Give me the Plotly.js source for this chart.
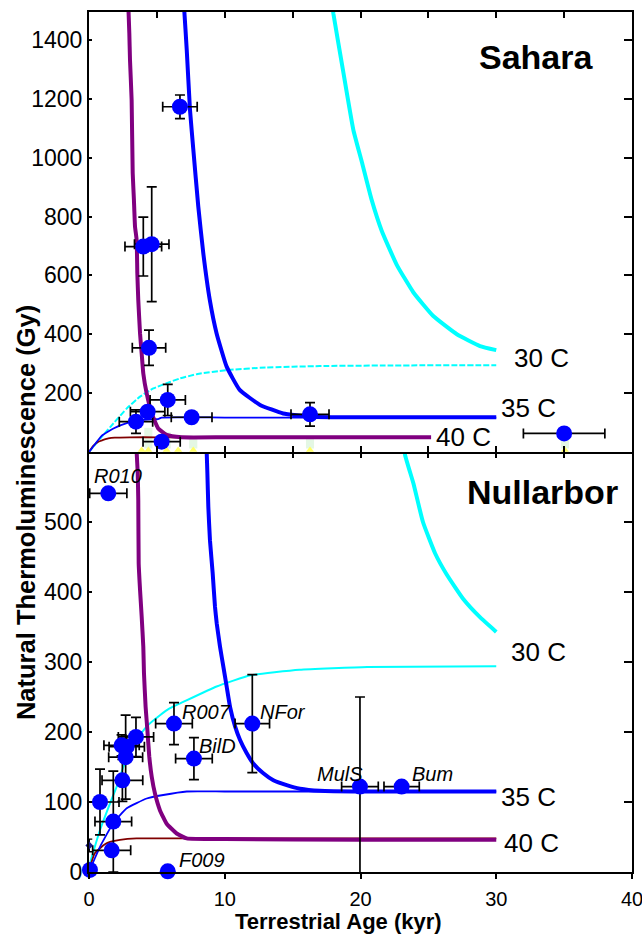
<!DOCTYPE html>
<html><head><meta charset="utf-8">
<script src="https://cdn.plot.ly/plotly-3.0.1.min.js"></script>
<style>html,body{margin:0;padding:0;background:#fff}#chart{width:642px;height:938px}</style>
</head><body><div id="chart"></div>
<script>
// ---------- Sahara (top panel) measured meteorites ----------
const saharaAge    = [6.70, 4.00, 4.62, 4.42, 5.80, 4.32, 3.46, 7.56, 5.35, 16.28, 35.0];
const saharaTL     = [1173, 698, 706, 354, 177, 137, 103, 118, 35, 128, 63];
const saharaAgeErr = [1.27, 1.35, 1.27, 1.23, 1.3, 1.27, 1.23, 1.5, 1.37, 1.4, 3.0];
const saharaTLErr  = [40, 100, 195, 60, 53, 15, 40, 8, 5, 40, 5];
const saharaFlagAge = [3.88, 4.37, 5.72, 6.57, 7.68, 16.28, 35.06];
const saharaFlagTL  = [7, 7, 7, 7, 7, 7, 7];
const saharaShadeAge = [4.37, 5.72, 7.68, 16.28, 35.06];
const saharaShadeTL  = [70, 55, 40, 35, 35];

// Sahara model curves
const s30DecayAge = [17.95, 18.0, 18.7, 19.47, 20.1, 20.8, 21.56, 22.67, 23.9, 25.36, 27.1, 28.8, 30.0];
const s30DecayTL  = [1510, 1490, 1300, 1095, 985, 860, 752, 636, 542, 462, 400, 360, 346];
const s35DecayAge = [6.97, 7.0, 7.2, 7.44, 7.68, 8.05, 8.42, 8.9, 9.4, 10.14, 11.1, 12.6, 14.3, 16.3, 20, 25, 30];
const s35DecayTL  = [1530, 1513, 1366, 1162, 1030, 834, 675, 516, 403, 290, 211, 160, 131, 120, 118, 118, 118];
const s40DecayAge = [2.88, 2.90, 2.97, 3.02, 3.14, 3.22, 3.31, 3.39, 3.51, 3.56, 3.63, 3.76, 3.88, 4.0, 4.25, 4.62, 5.1, 5.72, 6.83, 10, 15, 20, 25.2];
const s40DecayTL  = [1540, 1513, 1423, 1332, 1196, 947, 856, 766, 720, 607, 516, 403, 335, 267, 199, 131, 80, 58, 50, 50, 50, 50, 50];
const s30GrowthAge = [0, 0.32, 1.05, 1.8, 2.78, 3.76, 4.74, 5.97, 6.7, 8.0, 10.1, 13, 17, 22, 30];
const s30GrowthTL  = [0, 18, 58, 97, 148, 188, 216, 238, 250, 265, 278, 287, 292, 294, 295];
const s35GrowthAge = [0, 0.3, 0.93, 1.8, 2.78, 3.76, 4.6, 5.1, 5.35, 10, 20, 30];
const s35GrowthTL  = [0, 18, 55, 80, 98, 108, 111, 112, 117, 117, 117, 117];
const s40GrowthAge = [0, 0.3, 0.69, 1.0, 1.42, 1.9, 3, 5, 10, 25];
const s40GrowthTL  = [0, 20, 35, 40, 46, 49, 50, 50, 50, 50];

// ---------- Nullarbor (bottom panel) measured meteorites ----------
const nullAge    = [1.42, 0.81, 1.79, 1.67, 0.07, 5.80, 2.46, 2.70, 2.40, 2.78, 3.46, 6.26, 7.73, 12.03, 19.96, 23.03];
const nullTL     = [541, 100, 72, 31, 3, 1, 131, 164, 181, 179, 193, 212, 162, 212, 122, 122];
const nullAgeErr = [1.37, 1.4, 1.35, 1.4, 0, 0, 1.5, 1.25, 1.3, 1.3, 1.3, 1.35, 1.35, 1.27, 1.35, 1.3];
const nullTLErr  = [5, 47, 72, 5, 0, 0, 30, 60, 15, 15, 28, 30, 30, 70, 128, 5];
const nullSmallAge = [0.02];
const nullSmallTL  = [38];
const nullSmallErr = [9];
const nullNames    = ['R010', 'R007', 'BilD', 'NFor', 'MulS', 'Bum', 'F009'];
const nullNameAge  = [0.2, 6.70, 7.93, 12.45, 16.65, 23.65, 6.46];
const nullNameTL   = [566, 229, 180, 229, 140, 140, 17];

// Nullarbor model curves
const n30DecayAge = [23.2, 23.28, 23.9, 24.6, 25.5, 26.35, 27.57, 28.8, 30.0];
const n30DecayTL  = [615, 596, 555, 500, 455, 425, 390, 364, 343];
const n35DecayAge = [8.65, 8.67, 8.72, 8.79, 8.91, 9.11, 9.28, 9.41, 9.65, 9.9, 10.14, 10.39, 10.76, 11.12, 11.61, 12.1, 12.84, 13.58, 14.56, 15.54, 17.0, 20, 25, 30];
const n35DecayTL  = [615, 600, 570, 522, 474, 427, 379, 355, 322, 293, 265, 236, 208, 189, 170, 155, 141, 131, 124, 119, 116, 115, 115, 115];
const n40DecayAge = [3.49, 3.51, 3.59, 3.63, 3.66, 3.76, 3.88, 4.0, 4.05, 4.17, 4.30, 4.44, 4.62, 4.86, 5.23, 5.72, 6.46, 7.2, 10, 20, 30];
const n40DecayTL  = [615, 600, 570, 531, 441, 403, 365, 322, 284, 236, 203, 165, 136, 112, 88, 69, 55, 48, 47, 46, 46];
const n30GrowthAge = [0, 0.07, 0.81, 1.55, 2.04, 2.53, 3.26, 4.25, 5.23, 5.97, 6.95, 9.4, 11.9, 15.5, 20.5, 30];
const n30GrowthTL  = [0, 12, 60, 98, 122, 150, 182, 208, 224, 234, 243, 265, 281, 289, 293, 294];
const n35GrowthAge = [0, 0.44, 0.81, 1.79, 2.78, 4.25, 5.47, 7.2, 10, 20, 30];
const n35GrowthTL  = [0, 20, 36, 70, 91, 105, 110, 115, 115, 115, 115];
const n40GrowthAge = [0, 0.2, 0.44, 0.81, 1.2, 1.55, 2.28, 3.5, 7.2, 30];
const n40GrowthTL  = [0, 15, 27, 34, 40, 43, 46, 48, 48, 48];

const curveLabels = ['30 C', '35 C', '40 C'];
const ageTicks = [0, 10, 20, 30, 40];
const ageMinorTicks = [5, 10, 15, 20, 25, 30, 35];
const saharaTicks = [200, 400, 600, 800, 1000, 1200, 1400];
const nullTicks = [0, 100, 200, 300, 400, 500];

// ---------- styles ----------
const FONT = 'Liberation Sans, Arial, sans-serif';
const NARROW = '"Liberation Sans Narrow", "Arial Narrow", "Liberation Sans", Arial, sans-serif';
const CYAN = '#00ffff', BLUE = '#0000ff', PURPLE = '#800080', MAROON = '#800000';
const TOP = ['x2', 'y2'], BOT = ['x', 'y'];

function curve(x, y, color, width, ax, dash) {
  return {type: 'scatter', mode: 'lines', x: x, y: y, xaxis: ax[0], yaxis: ax[1],
    line: {color: color, width: width, dash: dash || 'solid', shape: 'spline', smoothing: 0.4},
    hoverinfo: 'skip', showlegend: false};
}
function points(x, y, ex, ey, ax) {
  return {type: 'scatter', mode: 'markers', x: x, y: y, xaxis: ax[0], yaxis: ax[1],
    marker: {color: BLUE, size: 16, line: {width: 0}},
    error_x: {type: 'data', array: ex, color: '#000', thickness: 1.7, width: 5},
    error_y: {type: 'data', array: ey, color: '#000', thickness: 1.7, width: 5},
    cliponaxis: false, showlegend: false};
}
function axisHolder(xa, ya) {
  return {type: 'scatter', mode: 'markers', x: [], y: [], xaxis: xa, yaxis: ya, showlegend: false, hoverinfo: 'skip'};
}

const traces = [
  {type: 'bar', x: saharaShadeAge, y: saharaShadeTL, base: 12, width: 0.6, xaxis: 'x2', yaxis: 'y2',
   marker: {color: '#e4f7e4', line: {width: 0}}, showlegend: false, hoverinfo: 'skip'},
  curve(s30GrowthAge, s30GrowthTL, CYAN, 2, TOP, '6px,2px'),
  curve(s40GrowthAge, s40GrowthTL, MAROON, 1.8, TOP),
  curve(s35GrowthAge, s35GrowthTL, BLUE, 1.8, TOP),
  curve(s30DecayAge, s30DecayTL, CYAN, 4, TOP),
  curve(s35DecayAge, s35DecayTL, BLUE, 4, TOP),
  curve(s40DecayAge, s40DecayTL, PURPLE, 4, TOP),
  {type: 'scatter', mode: 'markers', x: saharaFlagAge, y: saharaFlagTL, xaxis: 'x2', yaxis: 'y2',
   marker: {symbol: 'triangle-up', color: '#ffff66', size: 7, line: {width: 0}}, cliponaxis: false, showlegend: false},
  points(saharaAge, saharaTL, saharaAgeErr, saharaTLErr, TOP),

  curve(n30GrowthAge, n30GrowthTL, CYAN, 2, BOT),
  curve(n40GrowthAge, n40GrowthTL, MAROON, 1.8, BOT),
  curve(n35GrowthAge, n35GrowthTL, BLUE, 1.8, BOT),
  curve(n30DecayAge, n30DecayTL, CYAN, 4, BOT),
  curve(n35DecayAge, n35DecayTL, BLUE, 4, BOT),
  curve(n40DecayAge, n40DecayTL, PURPLE, 4, BOT),
  points(nullAge, nullTL, nullAgeErr, nullTLErr, BOT),
  {type: 'scatter', mode: 'markers', x: nullSmallAge, y: nullSmallTL, xaxis: 'x', yaxis: 'y',
   marker: {symbol: 'diamond', color: '#1a1a8c', size: 6},
   error_y: {type: 'data', array: nullSmallErr, color: '#000', thickness: 1.4, width: 3},
   cliponaxis: false, showlegend: false},

  axisHolder('x3', 'y'), axisHolder('x', 'y3'), axisHolder('x2', 'y4')
];

const annotations = [];
function label(text, x, y, ax, size, opts) {
  annotations.push(Object.assign({text: text, x: x, y: y, xref: ax[0], yref: ax[1], showarrow: false,
    font: {family: FONT, size: size, color: '#000'}}, opts || {}));
}
label('<b>Sahara</b>', 32.93, 1342, TOP, 34);
label('<b>Nullarbor</b>', 33.37, 543, BOT, 34);
label(curveLabels[0], 33.3, 319, TOP, 26);
label(curveLabels[1], 32.4, 150, TOP, 26);
label(curveLabels[2], 27.6, 51, TOP, 26);
label(curveLabels[0], 33.1, 314, BOT, 26);
label(curveLabels[1], 32.4, 107, BOT, 26);
label(curveLabels[2], 32.6, 41, BOT, 26);
nullNames.forEach(function (n, i) {
  label('<i>' + n + '</i>', nullNameAge[i], nullNameTL[i], BOT, 20, {xanchor: 'left', yanchor: 'middle'});
});
annotations.push({text: '<b>Natural Thermoluminescence (Gy)</b>', xref: 'paper', yref: 'paper',
  x: -0.116, y: 0.4174, textangle: -90, showarrow: false, xanchor: 'center', yanchor: 'middle',
  font: {family: FONT, size: 25.5, color: '#000'}});
annotations.push({text: '<b>Terrestrial Age (kyr)</b>', xref: 'paper', yref: 'paper',
  x: 0.4604, y: -0.057, showarrow: false, xanchor: 'center', yanchor: 'middle',
  font: {family: FONT, size: 22, color: '#000'}});

const split = 420 / 860;
const base = {showgrid: false, zeroline: false, tickcolor: '#000', tickwidth: 2, linecolor: '#000', linewidth: 2};
const layout = {
  width: 642, height: 938, margin: {l: 89, r: 10, t: 12, b: 66},
  paper_bgcolor: '#fff', plot_bgcolor: 'rgba(0,0,0,0)', showlegend: false,
  font: {family: FONT, color: '#000'},
  xaxis: Object.assign({}, base, {domain: [0, 1], anchor: 'y', range: [0, 40], tickvals: ageTicks,
    ticks: 'outside', ticklen: 5, showline: true, tickfont: {family: NARROW, size: 20}, ticklabelstandoff: 3,
    ticklabeloverflow: 'allow'}),
  xaxis3: Object.assign({}, base, {overlaying: 'x', anchor: 'y', side: 'top', range: [0, 40],
    tickvals: ageMinorTicks, ticks: 'inside', ticklen: 6, showline: false, showticklabels: false}),
  xaxis2: Object.assign({}, base, {anchor: 'y2', range: [0, 40], tickvals: ageMinorTicks,
    ticks: 'inside', ticklen: 6, mirror: 'ticks', showline: true, showticklabels: false}),
  yaxis: Object.assign({}, base, {domain: [0, split], anchor: 'x', range: [0, 600],
    tickvals: nullTicks, ticks: 'inside', ticklen: 3, showline: true,
    tickfont: {family: NARROW, size: 23}}),
  yaxis3: Object.assign({}, base, {overlaying: 'y', anchor: 'x', side: 'right', range: [0, 600],
    tickvals: nullTicks, ticks: 'inside', ticklen: 8, showline: true, showticklabels: false}),
  yaxis2: Object.assign({}, base, {domain: [split, 1], anchor: 'x2', range: [0, 1495],
    tickvals: saharaTicks, ticks: 'inside', ticklen: 3, showline: true,
    tickfont: {family: NARROW, size: 23}}),
  yaxis4: Object.assign({}, base, {overlaying: 'y2', anchor: 'x2', side: 'right', range: [0, 1495],
    tickvals: saharaTicks, ticks: 'inside', ticklen: 8, showline: true, showticklabels: false}),
  annotations: annotations
};

Plotly.newPlot('chart', traces, layout, {staticPlot: true, displayModeBar: false});
</script>
</body></html>
